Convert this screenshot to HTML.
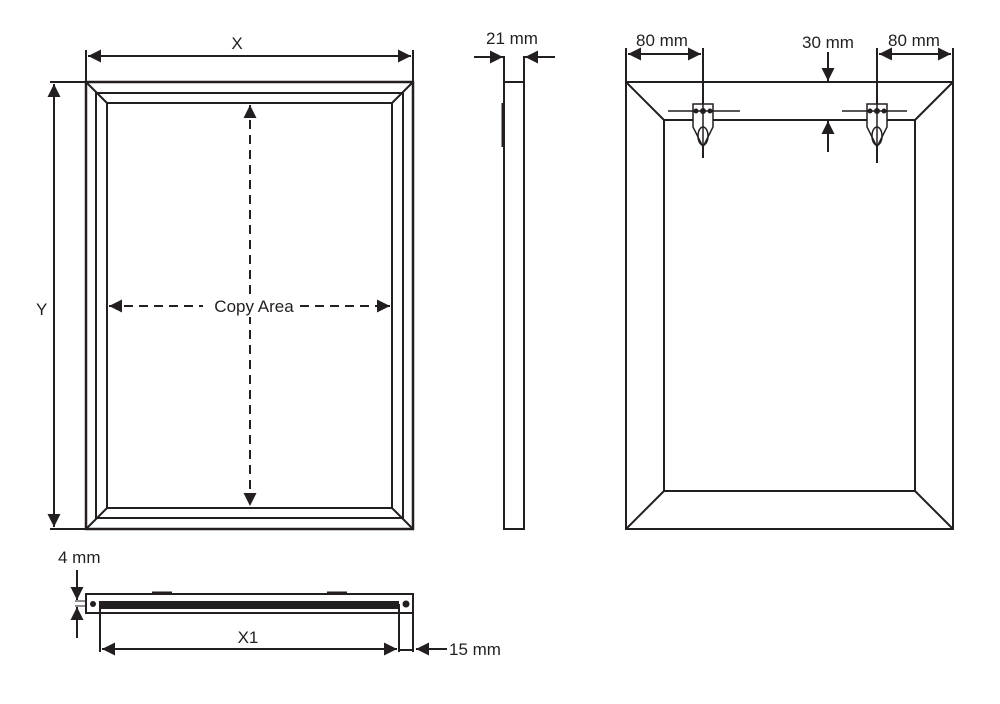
<!DOCTYPE html>
<html><head><style>body{margin:0;background:#fff}svg{display:block}text{font-family:"Liberation Sans",sans-serif;fill:#231f20}</style></head>
<body>
<svg width="1000" height="704" viewBox="0 0 1000 704" xmlns="http://www.w3.org/2000/svg">
<defs>
<marker id="a" viewBox="0 0 10 10" refX="10" refY="5" markerWidth="17" markerHeight="13" markerUnits="userSpaceOnUse" orient="auto-start-reverse"><path d="M0,0L10,5L0,10z" fill="#231f20"/></marker>
</defs>
<g stroke="#231f20" fill="none" stroke-width="2">
<!-- front -->
<rect x="86" y="82" width="327" height="447" stroke-width="2.5"/>
<rect x="96" y="93" width="307" height="425"/>
<rect x="107" y="103" width="285" height="405"/>
<path d="M86 82L107 103M413 82L392 103M86 529L107 508M413 529L392 508"/>
<path d="M86 50V82M413 50V82"/>
<path d="M88 56H411" marker-start="url(#a)" marker-end="url(#a)"/>
<path d="M50 82H86M50 529H86"/>
<path d="M54 84V527" marker-start="url(#a)" marker-end="url(#a)"/>
<path d="M250 105V506" stroke-dasharray="9,6" marker-start="url(#a)" marker-end="url(#a)"/>
<path d="M109 306H203M300 306H390" stroke-dasharray="9,6"/>
<path d="M109 306H120" marker-start="url(#a)"/>
<path d="M380 306H390" marker-end="url(#a)"/>
<!-- side -->
<rect x="504" y="82" width="20" height="447"/>
<path d="M504 56V82M524 56V82"/>
<path d="M474 57H503" marker-end="url(#a)"/>
<path d="M555 57H525" marker-end="url(#a)"/>
<path d="M503 103V147" stroke-width="3"/>
<!-- back -->
<rect x="626" y="82" width="327" height="447"/>
<rect x="664" y="120" width="251" height="371"/>
<path d="M626 82L664 120M953 82L915 120M626 529L664 491M953 529L915 491"/>
<path d="M626 48V82M953 48V82M703 48V158M877 48V163"/>
<path d="M628 54H701" marker-start="url(#a)" marker-end="url(#a)"/>
<path d="M879 54H951" marker-start="url(#a)" marker-end="url(#a)"/>
<path d="M828 52V81" marker-end="url(#a)"/>
<path d="M828 152V121" marker-end="url(#a)"/>
<g stroke-width="1.5">
<path d="M693 104H713V127L703 147L693 127Z" fill="#fff"/>
<path d="M867 104H887V127L877 147L867 127Z" fill="#fff"/>
<path d="M668 111H740M842 111H907"/>
<ellipse cx="703" cy="136" rx="5" ry="9"/><ellipse cx="877" cy="136" rx="5" ry="9"/>
<path d="M703 104V158M877 104V163"/>
</g>
<g fill="#231f20" stroke="none"><circle cx="696" cy="111" r="2.5"/><circle cx="703" cy="111" r="3"/><circle cx="710" cy="111" r="2.5"/><circle cx="870" cy="111" r="2.5"/><circle cx="877" cy="111" r="3"/><circle cx="884" cy="111" r="2.5"/></g>
<!-- bottom -->
<rect x="86" y="594" width="327" height="19"/>
<rect x="100" y="602" width="298" height="6" fill="#231f20"/>
<path d="M152 593H172M327 593H347" stroke-width="3"/>
<path d="M100 604V652M399 604V652M413 613V652M399 650H413"/>
<path d="M102 649H397" marker-start="url(#a)" marker-end="url(#a)"/>
<path d="M447 649H416" marker-end="url(#a)"/>
<path d="M77 570V600" marker-end="url(#a)"/>
<path d="M77 638V607" marker-end="url(#a)"/>
<path d="M75 601H86M75 606H86" stroke-width="1"/>
</g>
<g fill="#231f20"><circle cx="93" cy="604" r="3"/><circle cx="406" cy="604" r="3.5"/></g>
<rect x="207" y="295" width="90" height="22" fill="#fff"/>
<g font-size="17">
<text x="237" y="49" text-anchor="middle">X</text>
<text x="36" y="315">Y</text>
<text x="254" y="312" text-anchor="middle">Copy Area</text>
<text x="512" y="44" text-anchor="middle">21 mm</text>
<text x="662" y="46" text-anchor="middle">80 mm</text>
<text x="828" y="48" text-anchor="middle">30 mm</text>
<text x="914" y="46" text-anchor="middle">80 mm</text>
<text x="58" y="563">4 mm</text>
<text x="248" y="643" text-anchor="middle">X1</text>
<text x="449" y="655">15 mm</text>
</g>
</svg>
</body></html>
